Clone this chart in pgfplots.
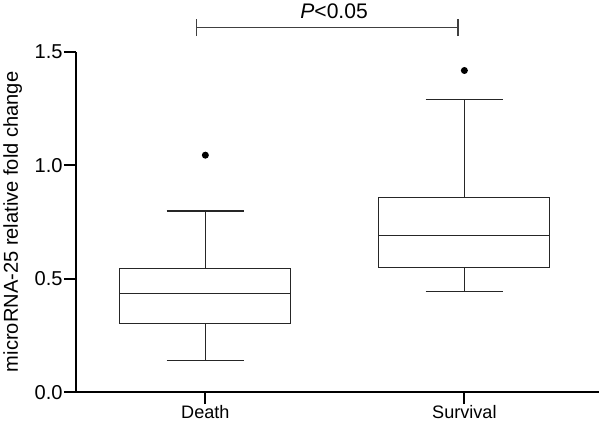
\documentclass[border=0pt]{standalone}
\usepackage{pgfplots}
\pgfplotsset{compat=1.18}
\usepgfplotslibrary{statistics}
\usepackage{fontspec}
\setmainfont{Liberation Sans}
\begin{document}
\begin{tikzpicture}
\begin{axis}[
  scale only axis,
  width=521pt, height=339pt,
  xmin=0.5, xmax=2.52,
  ymin=0, ymax=1.5,
  axis lines=left,
  axis line style={-, line width=1.8pt, black},
  xtick={1,2}, xticklabels={Death,Survival},
  ytick={0,0.5,1.0,1.5},
  yticklabel style={/pgf/number format/fixed, /pgf/number format/fixed zerofill, /pgf/number format/precision=1, /pgf/number format/assume math mode=true, font=\fontsize{20}{24}\selectfont, inner sep=1pt},
  tick align=outside,
  major tick length=12pt,
  tick style={line width=1.8pt, black},
  xticklabel style={font=\fontsize{18}{21}\selectfont, inner sep=1.5pt, text depth=3.5pt},
  ylabel={microRNA-25 relative fold change},
  ylabel style={font=\fontsize{20}{24}\selectfont},
  ylabel shift=8pt,
  clip=false,
  boxplot/draw direction=y,
  boxplot/box extend=0.66,
  boxplot/whisker extend=0.3,
]
\addplot+[black!85, line width=1.1pt, mark=*, mark size=2.9pt, mark options={fill=black, draw=black},
  boxplot prepared={draw position=1, lower whisker=0.140, lower quartile=0.304, median=0.434, upper quartile=0.544, upper whisker=0.798}]
  coordinates {(0,1.044)};
\addplot+[black!85, line width=1.1pt, mark=*, mark size=2.9pt, mark options={fill=black, draw=black},
  boxplot prepared={draw position=2, lower whisker=0.442, lower quartile=0.550, median=0.692, upper quartile=0.856, upper whisker=1.29}]
  coordinates {(0,1.417)};
\draw[line width=1.2pt, black!75] (axis cs:0.965,1.605) -- (axis cs:1.975,1.605);
\draw[line width=1.2pt, black!75] (axis cs:0.965,1.568) -- (axis cs:0.965,1.642);
\draw[line width=1.2pt, black!75] (axis cs:1.975,1.568) -- (axis cs:1.975,1.642);
\node[font=\fontsize{21}{25}\selectfont, anchor=base] at (axis cs:1.497,1.648) {\textit{P}<0.05};
\end{axis}
\end{tikzpicture}
\end{document}
